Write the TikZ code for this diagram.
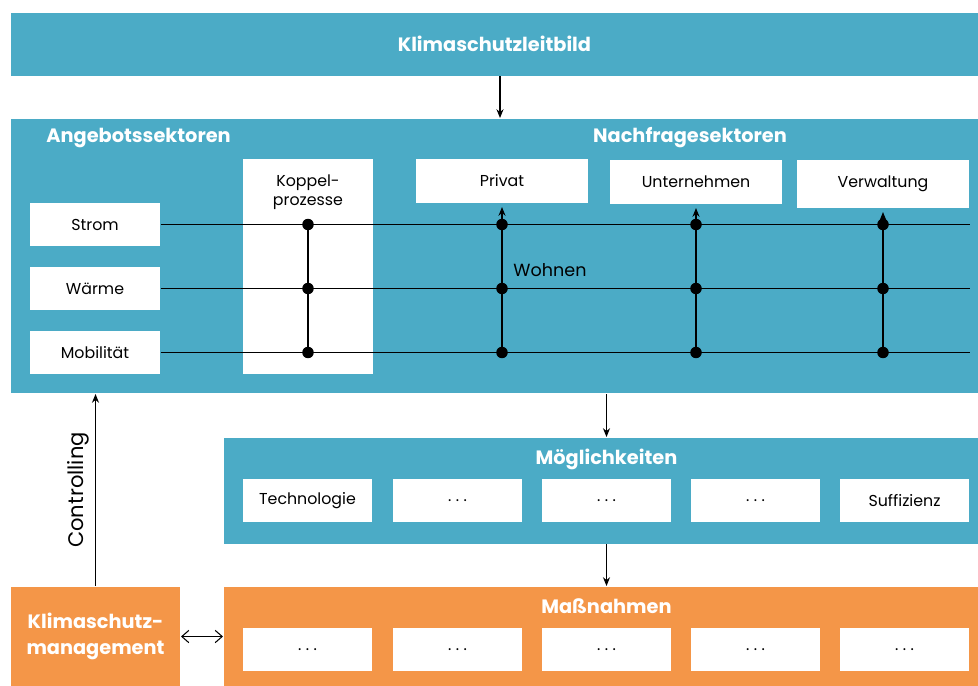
\documentclass[tikz,border=0pt]{standalone}
\usepackage{fontspec}
\setmainfont{Poppins}
\usetikzlibrary{arrows.meta}

\definecolor{kblau}{RGB}{75,171,198}
\definecolor{korange}{RGB}{244,150,72}

\newcommand{\punkte}{.\hspace{2.5pt}.\hspace{2.5pt}.}

\tikzset{
  feld/.style={fill=white, inner sep=0pt, minimum width=2.6cm, minimum height=0.86cm, font=\small},
  block/.style={inner sep=0pt, anchor=north west},
  titel/.style={text=white, font=\bfseries\fontsize{11}{15}\selectfont},
  punkt/.style={circle, fill=black, inner sep=0pt, minimum size=0.23cm},
}

\begin{document}
\begin{tikzpicture}[x=0.02cm, y=-0.02cm, >={Stealth[length=5pt,width=4pt]}, semithick]
      \useasboundingbox (0,0) rectangle (978,686);

      % Leitbild und Sektoren
      \node[block, fill=kblau, minimum width=19.36cm, minimum height=1.26cm] (leitbild) at (10,12) {};
      \node[titel] at (leitbild) {Klimaschutzleitbild};
      \node[block, fill=kblau, minimum width=19.36cm, minimum height=5.5cm] (sektoren) at (10,118) {};
      \node[titel, anchor=west] (angebot) at (40,138) {Angebotssektoren};
      \node[titel] (nachfrage) at (690,138) {Nachfragesektoren};

      \node[feld] (strom) at (95,224.5) {Strom};
      \node[feld] (waerme) at (95,288.5) {Wärme};
      \node[feld] (mobil) at (95,352.5) {Mobilität};
      \node[feld, minimum height=4.3cm] (koppel) at (308,266.5) {};
      \node[font=\small, align=center] at (308,192) {Koppel-\\prozesse};
      \node[feld, minimum width=3.44cm, minimum height=0.88cm] (privat) at (502,181) {Privat};
      \node[feld, minimum width=3.44cm, minimum height=0.88cm] (untern) at (696,182) {Unternehmen};
      \node[feld, minimum width=3.44cm, minimum height=0.96cm] (verwalt) at (883,184) {Verwaltung};
      \node (wohnen) at (550,270) {Wohnen};

      % Leitungen
      \foreach \z in {strom,waerme,mobil}
        \draw (\z.east) -- (\z.east -| verwalt.east);
      \draw (strom.east -| koppel) -- (mobil.east -| koppel);
      \foreach \n in {privat,untern,verwalt}
        \draw[->, shorten >=2pt] (mobil.east -| \n) -- (\n.south);
      \foreach \n in {koppel,privat,untern,verwalt}
        \foreach \z in {strom,waerme,mobil}
          \node[punkt] at (\z.east -| \n) {};

      % Moeglichkeiten
      \node[block, fill=kblau, minimum width=15.1cm, minimum height=2.12cm] (moegl) at (223,437) {};
      \node[feld] (moegl1) at (307.5,500.5) {Technologie};
      \node[feld] (moegl2) at (457.5,500.5) {\punkte};
      \node[feld] (moegl3) at (606.5,500.5) {\punkte};
      \node[feld] (moegl4) at (755.5,500.5) {\punkte};
      \node[feld] (moegl5) at (904.5,500.5) {Suffizienz};
      \node[titel] at (moegl.north -| moegl3) [below=0.12cm] {Möglichkeiten};

      % Massnahmen
      \node[block, fill=korange, minimum width=15.1cm, minimum height=2cm] (massn) at (223,586) {};
      \foreach \i/\x in {1/307.5,2/457.5,3/606.5,4/755.5,5/904.5}
        \node[feld] (mass\i) at (\x,649.5) {\punkte};
      \node[titel] at (massn.north -| mass3) [below=0.12cm] {Maßnahmen};

      \node[block, fill=korange, minimum width=3.4cm, minimum height=2cm] (kmanag) at (10,586) {};
      \node[titel, align=center] at (kmanag) {Klimaschutz-\\management};

      % Pfeile
      \coordinate (mitte) at (500,0);
      \draw[->] (leitbild.south -| mitte) -- (sektoren.north -| mitte);
      \draw[->] (sektoren.south -| moegl3) -- (moegl.north -| moegl3);
      \draw[->] (moegl.south -| mass3) -- (massn.north -| mass3);
      \draw[<->, >={Straight Barb[length=4pt,width=7pt]}] (kmanag.east) -- (massn.west |- kmanag.east);
      \draw[->] (kmanag.north) -- (kmanag.north |- sektoren.south)
        node[midway, above, sloped, font=\large] {Controlling};
\end{tikzpicture}
\end{document}
